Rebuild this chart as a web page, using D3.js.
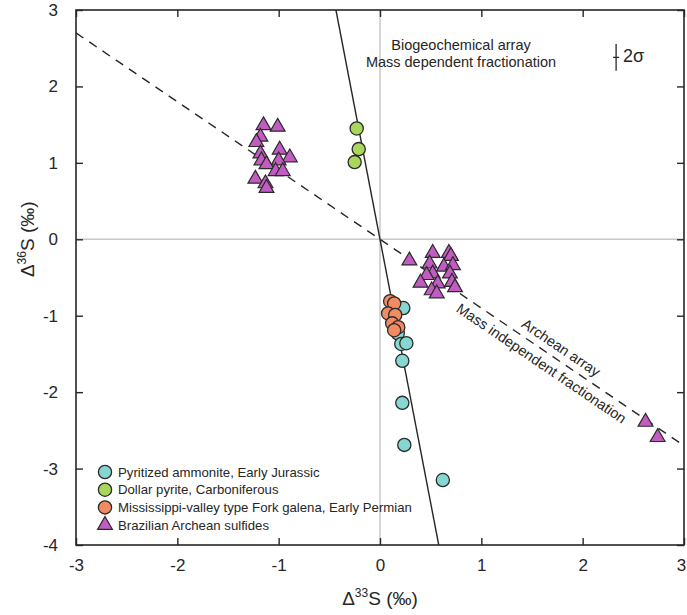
<!DOCTYPE html>
<html>
<head>
<meta charset="utf-8">
<script src="https://cdn.jsdelivr.net/npm/d3@7"></script>
<style>
  body { margin: 0; background: #fff; }
  svg { display: block; font-family: "Liberation Sans", Arial, sans-serif; }
</style>
</head>
<body>
<div id="container"></div>
<script>
// delta33S, delta36S pairs per sample group
var ammonite = [[0.23, -0.90], [0.175, -1.23], [0.21, -1.37], [0.26, -1.36],
  [0.22, -1.59], [0.22, -2.14], [0.24, -2.69], [0.62, -3.15]]
var dollar = [[-0.23, 1.45], [-0.21, 1.18], [-0.25, 1.01]]
var galena = [[0.10, -0.81], [0.14, -0.84], [0.08, -0.97], [0.15, -0.99],
  [0.12, -1.10], [0.18, -1.15], [0.14, -1.19]]
var archean = [[-1.15, 1.49], [-1.01, 1.47], [-1.18, 1.34], [-1.22, 1.27],
  [-1.18, 1.12], [-1.17, 1.03], [-0.99, 1.17], [-0.89, 1.07], [-1.00, 1.03],
  [-1.12, 0.98], [-1.03, 0.89], [-0.96, 0.89], [-1.23, 0.79], [-1.13, 0.73],
  [-1.12, 0.67],
  [0.29, -0.28], [0.52, -0.18], [0.68, -0.18], [0.70, -0.22], [0.49, -0.32],
  [0.63, -0.36], [0.72, -0.34], [0.52, -0.45], [0.46, -0.47], [0.69, -0.45],
  [0.40, -0.57], [0.57, -0.58], [0.71, -0.56], [0.51, -0.67], [0.74, -0.63],
  [0.56, -0.71],
  [2.62, -2.39], [2.74, -2.59]]

var xTicks = [-3, -2, -1, 0, 1, 2, 3]
var yTicks = [-4, -3, -2, -1, 0, 1, 2, 3]
var legendLabels = ["Pyritized ammonite, Early Jurassic", "Dollar pyrite, Carboniferous",
  "Mississippi-valley type Fork galena, Early Permian", "Brazilian Archean sulfides"]

var archeanSlope = -0.9   // dashed line
var mdfSlope = -6.9       // solid line
var twoSigma = {x: 2.33, y: 2.38, dx: 0.03, dy: 0.175}

var W = 687, H = 615
var m = {top: 10, right: 3, bottom: 70, left: 76}
var ink = "#262626"

var svg = d3.select("#container").append("svg")
    .attr("width", W)
    .attr("height", H)

var x = d3.scaleLinear().domain([-3, 3]).range([m.left, W - m.right])
var y = d3.scaleLinear().domain([-4, 3]).range([H - m.bottom, m.top])

svg.append("defs").append("clipPath")
    .attr("id", "plot")
  .append("rect")
    .attr("x", m.left).attr("y", m.top)
    .attr("width", W - m.left - m.right)
    .attr("height", H - m.top - m.bottom)

// zero lines
svg.append("line")
    .attr("x1", x(0)).attr("x2", x(0))
    .attr("y1", y(3)).attr("y2", y(-4))
    .attr("stroke", "#c8c8c8").attr("stroke-width", 1.5)
svg.append("line")
    .attr("x1", x(-3)).attr("x2", x(3))
    .attr("y1", y(0)).attr("y2", y(0))
    .attr("stroke", "#c8c8c8").attr("stroke-width", 1.5)

var lines = svg.append("g").attr("clip-path", "url(#plot)")

lines.append("line")
    .attr("x1", x(-3)).attr("y1", y(-3 * archeanSlope))
    .attr("x2", x(3)).attr("y2", y(3 * archeanSlope))
    .attr("stroke", ink).attr("stroke-width", 1.4)
    .attr("stroke-dasharray", "9,7")

lines.append("line")
    .attr("x1", x(3 / mdfSlope)).attr("y1", y(3))
    .attr("x2", x(-4 / mdfSlope)).attr("y2", y(-4))
    .attr("stroke", ink).attr("stroke-width", 1.4)

// axes, ticks pointing inwards on all four sides
function frameAxis(axis, tx, ty, labels) {
  var g = svg.append("g")
      .attr("transform", "translate(" + tx + "," + ty + ")")
      .call(axis)
  g.select(".domain").remove()
  g.selectAll(".tick line").attr("stroke", ink).attr("stroke-width", 1.4)
  g.selectAll("text")
      .attr("font-size", 17)
      .attr("fill", ink)
      .attr("font-family", "Liberation Sans, Arial, sans-serif")
  if (!labels) g.selectAll("text").remove()
  return g
}

var bottomAxis = frameAxis(d3.axisBottom(x).tickValues(xTicks).tickFormat(String)
    .tickSizeInner(-7).tickSizeOuter(0).tickPadding(14), 0, y(-4), true)
// last label sits on the window edge, nudge it inside
bottomAxis.selectAll(".tick text").filter(function(d) { return d === 3 }).attr("x", -3)
frameAxis(d3.axisTop(x).tickValues(xTicks).tickSizeInner(-7).tickSizeOuter(0), 0, y(3), false)
frameAxis(d3.axisLeft(y).tickValues(yTicks).tickFormat(String)
    .tickSizeInner(-7).tickSizeOuter(0).tickPadding(18), x(-3), 0, true)
frameAxis(d3.axisRight(y).tickValues(yTicks).tickSizeInner(-7).tickSizeOuter(0), x(3), 0, false)

svg.append("rect")
    .attr("x", m.left).attr("y", m.top)
    .attr("width", W - m.left - m.right)
    .attr("height", H - m.top - m.bottom)
    .attr("fill", "none")
    .attr("stroke", ink)
    .attr("stroke-width", 1.6)

// axis titles
function deltaLabel(g, iso) {
  g.append("tspan").text("\u0394")
  g.append("tspan").attr("font-size", 12).attr("dy", -8).text(iso)
  g.append("tspan").attr("dy", 8).text("S (\u2030)")
}

var xt = svg.append("text")
    .attr("x", x(0)).attr("y", 605)
    .attr("text-anchor", "middle")
    .attr("font-size", 19).attr("fill", ink)
deltaLabel(xt, "33")

var yt = svg.append("text")
    .attr("transform", "translate(34," + y(0) + ") rotate(-90)")
    .attr("text-anchor", "middle")
    .attr("font-size", 19).attr("fill", ink)
deltaLabel(yt, "36")

// annotations
var ann = svg.append("g").attr("font-size", 14.5).attr("fill", ink).attr("text-anchor", "middle")
ann.append("text").attr("x", 461).attr("y", 50).text("Biogeochemical array")
ann.append("text").attr("x", 461).attr("y", 67).text("Mass dependent fractionation")

var ang = Math.atan2(y(archeanSlope) - y(0), x(1) - x(0)) * 180 / Math.PI
function alongLine(dx, off, txt) {
  var px = x(dx), py = y(dx * archeanSlope)
  svg.append("text")
      .attr("transform", "translate(" + px + "," + py + ") rotate(" + ang + ")")
      .attr("y", off)
      .attr("text-anchor", "middle")
      .attr("font-size", 14.5).attr("fill", ink)
      .text(txt)
}
alongLine(1.72, -7, "Archean array")
alongLine(1.66, 17, "Mass independent fractionation")

// 2 sigma error cross
svg.append("line")
    .attr("x1", x(twoSigma.x)).attr("x2", x(twoSigma.x))
    .attr("y1", y(twoSigma.y + twoSigma.dy)).attr("y2", y(twoSigma.y - twoSigma.dy))
    .attr("stroke", ink).attr("stroke-width", 1.3)
svg.append("line")
    .attr("x1", x(twoSigma.x - twoSigma.dx)).attr("x2", x(twoSigma.x + twoSigma.dx))
    .attr("y1", y(twoSigma.y)).attr("y2", y(twoSigma.y))
    .attr("stroke", ink).attr("stroke-width", 1.3)
svg.append("text")
    .attr("x", x(twoSigma.x) + 7).attr("y", y(twoSigma.y) + 5)
    .attr("font-size", 18).attr("fill", ink)
    .text("2\u03c3")

// points
var colours = ["#86d6d1", "#a9d75c", "#f38b62", "#c25cc2"]
var tri = d3.symbol().type(d3.symbolTriangle).size(95)

function circles(data, colour) {
  svg.append("g").selectAll("circle")
    .data(data).enter().append("circle")
      .attr("cx", function(d) { return x(d[0]) })
      .attr("cy", function(d) { return y(d[1]) })
      .attr("r", 6.6)
      .attr("fill", colour)
      .attr("stroke", "#2a2a2a")
      .attr("stroke-width", 1.3)
}

svg.append("g").selectAll("path")
  .data(archean).enter().append("path")
    .attr("d", tri)
    .attr("transform", function(d) { return "translate(" + x(d[0]) + "," + y(d[1]) + ")" })
    .attr("fill", colours[3])
    .attr("stroke", "#2a2a2a")
    .attr("stroke-width", 1.2)

circles(dollar, colours[1])
circles(ammonite, colours[0])
circles(galena, colours[2])

// legend
var legend = svg.append("g").attr("transform", "translate(105,472)")
legendLabels.forEach(function(label, i) {
  var row = legend.append("g").attr("transform", "translate(0," + (i * 17.7) + ")")
  if (i < 3) {
    row.append("circle").attr("r", 6.6)
        .attr("fill", colours[i]).attr("stroke", "#2a2a2a").attr("stroke-width", 1.3)
  } else {
    row.append("path").attr("d", tri)
        .attr("fill", colours[i]).attr("stroke", "#2a2a2a").attr("stroke-width", 1.2)
  }
  row.append("text")
      .attr("x", 13).attr("y", 4.5)
      .attr("font-size", 13.2).attr("fill", ink)
      .text(label)
})
</script>
</body>
</html>
